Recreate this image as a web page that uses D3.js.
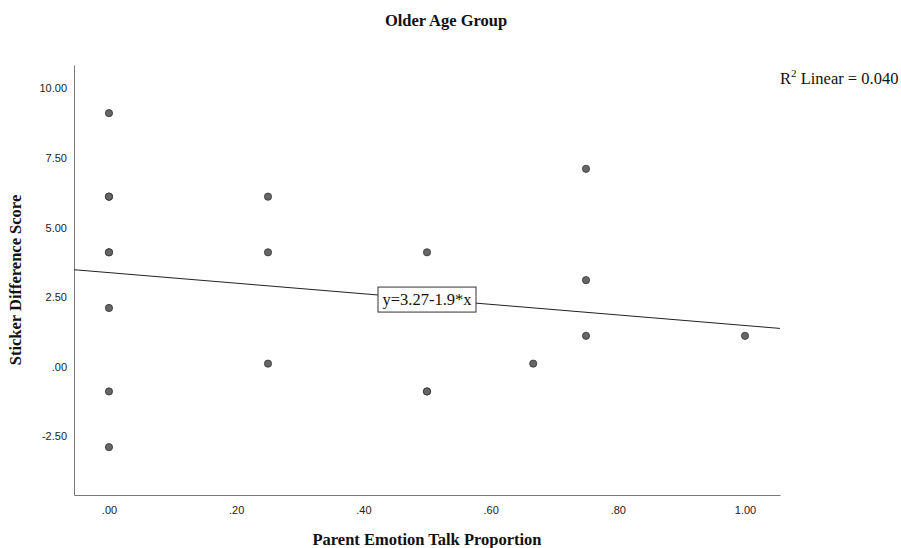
<!DOCTYPE html>
<html>
<head>
<meta charset="utf-8">
<script src="https://cdnjs.cloudflare.com/ajax/libs/d3/7.8.5/d3.min.js"></script>
<style>
  body { margin: 0; background: white; }
  .tick text { font-family: "Liberation Sans", Arial, sans-serif; font-size: 11px; fill: #222; }
  .serif { font-family: "Liberation Serif", "Times New Roman", serif; }
</style>
</head>
<body>
<script>
// data
var emotionTalk = [0, 0, 0, 0, 0, 0, 0, 0,
                   0.25, 0.25, 0.25,
                   0.5, 0.5, 0.5,
                   0.667,
                   0.75, 0.75, 0.75,
                   1.0];
var stickerDiff = [9, 6, 6, 4, 4, 2, -1, -3,
                   6, 4, 0,
                   4, -1, -1,
                   0,
                   7, 3, 1,
                   1];
var xTicks = [0, 0.2, 0.4, 0.6, 0.8, 1.0];
var yTicks = [-2.5, 0, 2.5, 5, 7.5, 10];
var fitIntercept = 3.27;
var fitSlope = -1.9;

var screen = {width: 901, height: 548};
var plot = {left: 74, right: 780, top: 65, bottom: 495};

var svg = d3.select("body")
            .append("svg")
            .attr("width", screen.width)
            .attr("height", screen.height);

var x = d3.scaleLinear()
          .domain([-0.055, 1.055])
          .range([plot.left, plot.right]);

var y = d3.scaleLinear()
          .domain([-4.72, 10.73])
          .range([plot.bottom, plot.top]);

// leading-dot labels, SPSS style, plain hyphen for minus
var fmt = function(d) {
  var s = Math.abs(d).toFixed(2).replace(/^0\./, ".");
  return (d < 0 ? "-" : "") + s;
};

var xAxis = svg.append("g")
               .attr("transform", "translate(0," + plot.bottom + ")")
               .call(d3.axisBottom(x).tickValues(xTicks).tickFormat(fmt).tickSize(0).tickPadding(11));

var yAxis = svg.append("g")
               .attr("transform", "translate(" + plot.left + ",0)")
               .call(d3.axisLeft(y).tickValues(yTicks).tickFormat(fmt).tickSize(0).tickPadding(7));

yAxis.selectAll(".tick text").attr("dy", "0.6em");

svg.selectAll(".domain").attr("stroke", "#777");

// fit line
var lineData = x.domain().map(function(v) { return [v, fitIntercept + fitSlope * v]; });
svg.append("line")
   .attr("x1", x(lineData[0][0]))
   .attr("y1", y(lineData[0][1]))
   .attr("x2", x(lineData[1][0]))
   .attr("y2", y(lineData[1][1]))
   .attr("stroke", "#222")
   .attr("stroke-width", 1);

// points
svg.append("g")
   .selectAll("circle")
   .data(emotionTalk)
   .enter()
   .append("circle")
   .attr("cx", function(d) { return x(d); })
   .attr("cy", function(d, i) { return y(stickerDiff[i]); })
   .attr("r", 3.6)
   .attr("fill", "#666")
   .attr("stroke", "#333")
   .attr("stroke-width", 1)
   .attr("stroke-opacity", 0.8);

// equation label
var eqX = x(0.5), eqY = y(fitIntercept + fitSlope * 0.5);
var eq = svg.append("g").attr("transform", "translate(" + eqX + "," + eqY + ")");
eq.append("rect")
  .attr("x", -49)
  .attr("y", -12)
  .attr("width", 98)
  .attr("height", 25)
  .attr("fill", "white")
  .attr("stroke", "#333");
eq.append("text")
  .attr("class", "serif")
  .attr("text-anchor", "middle")
  .attr("y", 6)
  .attr("font-size", "16.5px")
  .attr("fill", "#111")
  .text("y=3.27-1.9*x");

// R squared
var r2 = svg.append("text")
            .attr("class", "serif")
            .attr("x", 780)
            .attr("y", 84)
            .attr("font-size", "16.5px")
            .attr("fill", "#111");
r2.append("tspan").text("R");
r2.append("tspan").attr("dy", -7).attr("font-size", "11px").text("2");
r2.append("tspan").attr("dy", 7).text(" Linear = 0.040");

// titles
svg.append("text")
   .attr("class", "serif")
   .attr("x", 446)
   .attr("y", 26)
   .attr("text-anchor", "middle")
   .attr("font-weight", "bold")
   .attr("font-size", "16.5px")
   .attr("fill", "#111")
   .text("Older Age Group");

svg.append("text")
   .attr("class", "serif")
   .attr("x", (plot.left + plot.right) / 2)
   .attr("y", 545)
   .attr("text-anchor", "middle")
   .attr("font-weight", "bold")
   .attr("font-size", "16.5px")
   .attr("fill", "#111")
   .text("Parent Emotion Talk Proportion");

svg.append("text")
   .attr("class", "serif")
   .attr("transform", "translate(21," + (plot.top + plot.bottom) / 2 + ") rotate(-90)")
   .attr("text-anchor", "middle")
   .attr("font-weight", "bold")
   .attr("font-size", "16.5px")
   .attr("fill", "#111")
   .text("Sticker Difference Score");
</script>
</body>
</html>
